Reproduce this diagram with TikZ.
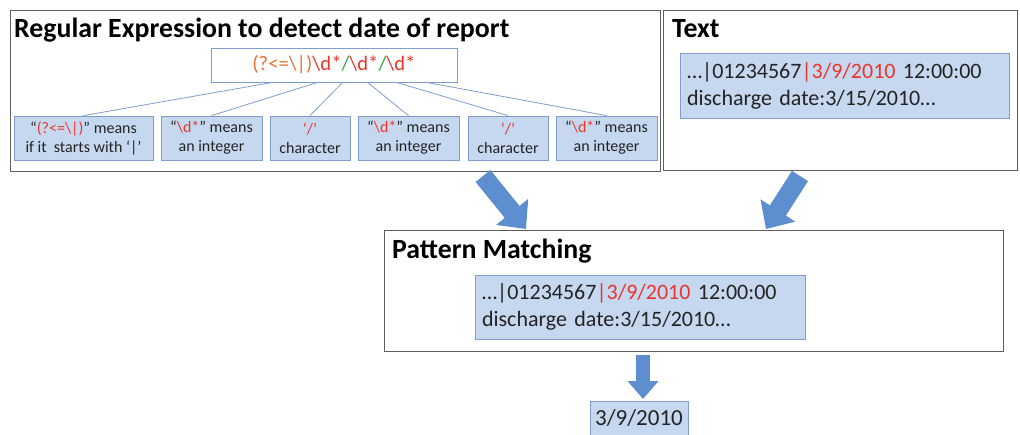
\documentclass[tikz,border=0pt]{standalone}
\usepackage{fontspec}
\setmainfont{Carlito}
\usetikzlibrary{arrows.meta,shadows}
\definecolor{bfill}{RGB}{198,216,239}
\definecolor{bdraw}{RGB}{128,158,204}
\definecolor{rxorange}{RGB}{236,112,52}
\definecolor{rxred}{RGB}{236,52,42}
\definecolor{rxgreen}{RGB}{52,168,72}
\definecolor{framec}{RGB}{95,95,95}
\definecolor{arrowc}{RGB}{92,142,208}
\definecolor{txt}{RGB}{35,35,35}
\begin{document}
\begin{tikzpicture}[x=1pt,y=-1pt,
  frame/.style={draw=framec,line width=1.4pt,fill=white,inner sep=0pt,anchor=north west},
  title/.style={font=\bfseries\fontsize{27.8}{30}\selectfont,anchor=base west,inner sep=0pt},
  bluebox/.style={draw=bdraw,fill=bfill,line width=0.8pt,inner sep=0pt,
    drop shadow={shadow xshift=1pt,shadow yshift=-1.2pt,opacity=0.25}},
  small/.style={bluebox,align=center,text=txt,font=\fontsize{16}{19}\selectfont,minimum height=44pt},
  bigtext/.style={bluebox,align=left,text=txt,font=\fontsize{22}{27}\selectfont},
  tree/.style={draw=bdraw,line width=0.8pt},
  block/.style={draw=arrowc,line width=19pt,-{Triangle[width=40pt,length=22pt]}}
]
\useasboundingbox (0,0) rectangle (1020,434);
% frames
\node[frame,minimum width=650pt,minimum height=161pt] (regexframe) at (10,10) {};
\node[frame,minimum width=354pt,minimum height=160pt] (textframe) at (663,10) {};
\node[frame,minimum width=619pt,minimum height=121pt] (patternframe) at (384,230) {};
% titles
\node[title] (regextitle) at (14,37) {Regular Expression to detect date of report};
\node[title] (texttitle) at (672,37) {Text};
\node[title] (patterntitle) at (392,258) {Pattern Matching};
% regex box
\node[draw=bdraw,fill=white,line width=0.8pt,minimum width=246pt,minimum height=34pt,inner sep=0pt,
  font=\fontsize{20.6}{22}\selectfont] (regex) at (334,65)
  {{\color{rxorange}(?<=\textbackslash|)}{\color{rxred}\textbackslash d*}{\color{rxgreen}/}{\color{rxred}\textbackslash d*}{\color{rxgreen}/}{\color{rxred}\textbackslash d*}};
% small boxes
\node[small,minimum width=139pt] (b1) at (83.5,138) {“{\color{rxred}(?<=\textbackslash|)}” means\\if it\ \ starts with ‘|’};
\node[small,minimum width=101pt] (b2) at (211.5,138) {“{\color{rxred}\textbackslash d*}” means\\an integer};
\node[small,minimum width=80pt] (b3) at (310,138) {{\color{rxred}‘/’}\\character};
\node[small,minimum width=101pt] (b4) at (408.5,138) {“{\color{rxred}\textbackslash d*}” means\\an integer};
\node[small,minimum width=80pt] (b5) at (508,138) {{\color{rxred}‘/’}\\character};
\node[small,minimum width=101pt] (b6) at (606.5,138) {“{\color{rxred}\textbackslash d*}” means\\an integer};
% tree lines
\draw[tree] ([xshift=62pt]regex.south west) -- (b1.north);
\draw[tree] ([xshift=107pt]regex.south west) -- (b2.north);
\draw[tree] ([xshift=132pt]regex.south west) -- (b3.north);
\draw[tree] ([xshift=157pt]regex.south west) -- (b4.north);
\draw[tree] ([xshift=186pt]regex.south west) -- (b5.north);
\draw[tree] ([xshift=216pt]regex.south west) -- (b6.north);
% text boxes
\node[bigtext,minimum width=329pt,minimum height=65pt,text width=315pt] (textbox) at (844.5,85.5)
  {…|01234567{\color{rxred}|3/9/2010} 12:00:00\\discharge date:3/15/2010…};
\node[bigtext,minimum width=330pt,minimum height=64pt,text width=316pt] (matchbox) at (640,307)
  {…|01234567{\color{rxred}|3/9/2010} 12:00:00\\discharge date:3/15/2010…};
\node[bluebox,text=txt,font=\fontsize{23}{26}\selectfont,minimum width=98pt,minimum height=34pt] (result) at (639,418) {3/9/2010};
% block arrows
\coordinate (a1s) at (483,176);
\coordinate (a1e) at (526,229);
\coordinate (a2s) at (800,176);
\coordinate (a2e) at (766,229);
\coordinate (a3s) at (643,355);
\coordinate (a3e) at (643,399);
\draw[block] (a1s) -- (a1e);
\draw[block] (a2s) -- (a2e);
\draw[block,line width=14pt,-{Triangle[width=30pt,length=18pt]}] (a3s) -- (a3e);
\end{tikzpicture}
\end{document}
